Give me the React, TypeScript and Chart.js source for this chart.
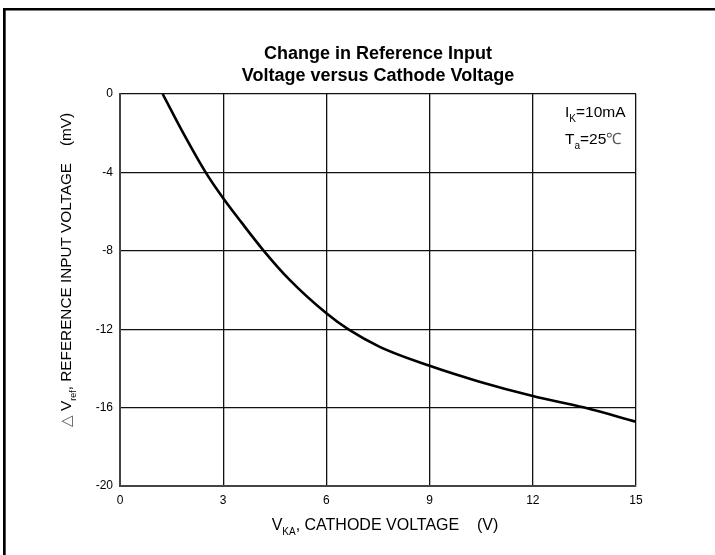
import React, { useEffect, useRef } from "react";
import { Chart, registerables } from "chart.js";

Chart.register(...registerables);

// Data
const vka = [1.24, 1.84, 2.49, 3.0, 3.53, 4.18, 4.94, 6.0, 6.63, 7.55, 9, 10.45, 12, 13.5, 15];
const dvref = [0, -2.0, -4.0, -5.32, -6.55, -8.0, -9.5, -11.19, -12.0, -12.9, -13.87, -14.68, -15.41, -16.0, -16.72];

const titleLines = ["Change in Reference Input", "Voltage versus Cathode Voltage"];
const xTitle = [{ t: "V" }, { t: "KA", sub: true }, { t: ", CATHODE VOLTAGE    (V)" }];
const yTitle = [{ t: "\u25B3", light: true }, { t: " V" }, { t: "ref", sub: true }, { t: ", REFERENCE INPUT VOLTAGE    (mV)" }];
const note1 = [{ t: "I" }, { t: "K", sub: true }, { t: "=10mA" }];
const note2 = [{ t: "T" }, { t: "a", sub: true }, { t: "=25" }, { t: "\u2103", light: true }];

const FONT = "'Liberation Sans', Arial, sans-serif";

type Seg = { t: string; sub?: boolean; light?: boolean };

function segFont(s: Seg, size: number) {
  return s.sub ? `${Math.round(size * 0.62)}px ${FONT}` : `${size}px ${FONT}`;
}

function measure(ctx: CanvasRenderingContext2D, segs: Seg[], size: number) {
  let w = 0;
  for (const s of segs) {
    ctx.font = segFont(s, size);
    w += ctx.measureText(s.t).width;
  }
  return w;
}

function drawRich(ctx: CanvasRenderingContext2D, segs: Seg[], x: number, y: number, size: number) {
  let cx = x;
  ctx.textAlign = "left";
  ctx.textBaseline = "alphabetic";
  for (const s of segs) {
    ctx.font = segFont(s, size);
    ctx.fillStyle = s.light ? "#555" : "#000";
    ctx.fillText(s.t, cx, s.sub ? y + size * 0.3 : y);
    cx += ctx.measureText(s.t).width;
  }
}

const decorPlugin = {
  id: "decor",
  afterDraw(chart: any) {
    const ctx: CanvasRenderingContext2D = chart.ctx;
    const area = chart.chartArea;
    ctx.save();
    // frame edges (top and left)
    ctx.fillStyle = "#000";
    ctx.fillRect(3, 8, 712, 2.5);
    ctx.fillRect(3, 8, 2.7, 547);

    // title
    ctx.fillStyle = "#000";
    ctx.font = `bold 18px ${FONT}`;
    ctx.textAlign = "center";
    ctx.textBaseline = "alphabetic";
    const cxT = (area.left + area.right) / 2;
    ctx.fillText(titleLines[0], cxT, 58.5);
    ctx.fillText(titleLines[1], cxT, 81);

    // x axis title
    const xs = 16;
    const wx = measure(ctx, xTitle, xs);
    drawRich(ctx, xTitle, 385 - wx / 2, 530, xs);

    // y axis title (rotated)
    const ys = 15.3;
    const wy = measure(ctx, yTitle, ys);
    ctx.save();
    ctx.translate(71, 270);
    ctx.rotate(-Math.PI / 2);
    drawRich(ctx, yTitle, -wy / 2, 0, ys);
    ctx.restore();

    // annotation
    drawRich(ctx, note1, 565, 117, 15.5);
    drawRich(ctx, note2, 565, 144, 15.5);
    ctx.restore();
  },
};

export default function App() {
  const ref = useRef<HTMLCanvasElement | null>(null);
  useEffect(() => {
    if (!ref.current) return;
    const chart = new Chart(ref.current, {
      type: "scatter",
      data: {
        datasets: [
          {
            data: vka.map((x, i) => ({ x, y: dvref[i] })),
            showLine: true,
            borderColor: "#000",
            borderWidth: 2.6,
            pointRadius: 0,
            cubicInterpolationMode: "monotone",
          },
        ],
      },
      options: {
        animation: false,
        responsive: false,
        devicePixelRatio: 1,
        layout: { padding: { left: 0, right: 79, top: 94, bottom: 0 } },
        plugins: { legend: { display: false }, tooltip: { enabled: false }, title: { display: false } },
        scales: {
          x: {
            type: "linear",
            min: 0,
            max: 15,
            afterFit: (s: any) => {
              s.height = 69;
            },
            ticks: { stepSize: 3, color: "#000", font: { family: FONT, size: 12 }, padding: 7 },
            grid: { color: "#111", lineWidth: 1.3, drawTicks: false },
            border: { display: true, color: "#444", width: 2 },
          },
          y: {
            type: "linear",
            min: -20,
            max: 0,
            afterFit: (s: any) => {
              s.width = 120;
            },
            ticks: { stepSize: 4, color: "#000", font: { family: FONT, size: 12 }, padding: 7 },
            grid: { color: "#111", lineWidth: 1.3, drawTicks: false },
            border: { display: true, color: "#444", width: 2 },
          },
        },
      },
      plugins: [decorPlugin],
    });
    return () => chart.destroy();
  }, []);
  return (
    <div style={{ position: "fixed", left: 0, top: 0, width: 715, height: 555, background: "#fff" }}>
      <canvas ref={ref} width={715} height={555} style={{ width: 715, height: 555, display: "block" }} />
    </div>
  );
}
